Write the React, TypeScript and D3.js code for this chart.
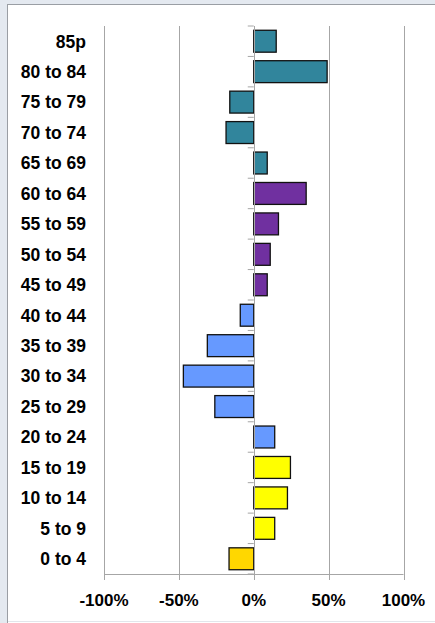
import React from "react";
import * as d3 from "d3";

const categories = ["85p","80 to 84","75 to 79","70 to 74","65 to 69","60 to 64","55 to 59","50 to 54","45 to 49","40 to 44","35 to 39","30 to 34","25 to 29","20 to 24","15 to 19","10 to 14","5 to 9","0 to 4"];
const values = [15, 49, -16, -18.5, 9, 35, 16.5, 11, 9, -9, -31, -47, -26, 14, 24.5, 22.5, 14, -16.5];
const colors = ["#31859C","#31859C","#31859C","#31859C","#31859C","#7030A0","#7030A0","#7030A0","#7030A0","#6699FF","#6699FF","#6699FF","#6699FF","#6699FF","#FFFF00","#FFFF00","#FFFF00","#FFD700"];
const xTicks = [-100, -50, 0, 50, 100];

const W = 435, H = 623;
const left = 104, right = 403.5, top = 26, bottom = 574;

export default function App() {
  const x = d3.scaleLinear().domain([-100, 100]).range([left, right]);
  const y = d3.scaleBand<string>().domain(categories).range([top, bottom]).paddingInner(0.28).paddingOuter(0.14);
  const step = (bottom - top) / categories.length;
  const font = "'Liberation Sans Narrow', 'Liberation Sans', Arial, sans-serif";
  return (
    <svg width={W} height={H} style={{ position: "absolute", left: 0, top: 0, display: "block" }}>
      <rect x={0} y={0} width={W} height={H} fill="#ffffff" />
      <rect x={0} y={0} width={W} height={4} fill="#e4e9f0" />
      <rect x={0} y={0} width={7} height={H} fill="#e4e9f0" />
      <line x1={7} x2={W} y1={4.5} y2={4.5} stroke="#9a9ea4" strokeWidth={1} />
      <line x1={7.5} x2={7.5} y1={4} y2={H} stroke="#9a9ea4" strokeWidth={1} />
      <line x1={8} x2={W} y1={621.5} y2={621.5} stroke="#e2e6eb" strokeWidth={1} />
      {xTicks.map((t) => (
        <line key={"g" + t} x1={Math.round(x(t)) + 0.5} x2={Math.round(x(t)) + 0.5} y1={top} y2={bottom} stroke="#a6a6a6" strokeWidth={1} />
      ))}
      {xTicks.map((t) => (
        <line key={"t" + t} x1={Math.round(x(t)) + 0.5} x2={Math.round(x(t)) + 0.5} y1={bottom} y2={bottom + 6} stroke="#a6a6a6" strokeWidth={1} />
      ))}
      <line x1={x(-100)} x2={x(100)} y1={bottom + 0.5} y2={bottom + 0.5} stroke="#a6a6a6" strokeWidth={1} />
      {categories.map((c, i) => {
        const v = values[i];
        const x0 = x(Math.min(0, v));
        const w = Math.abs(x(v) - x(0));
        return (
          <rect key={c} x={x0} y={y(c)!} width={w} height={y.bandwidth()} fill={colors[i]} stroke="#111111" strokeWidth={1.3} />
        );
      })}
      <line x1={Math.round(x(0)) + 0.5} x2={Math.round(x(0)) + 0.5} y1={top} y2={bottom} stroke="#a6a6a6" strokeWidth={1} />
      {d3.range(categories.length + 1).map((i) => (
        <line key={"yt" + i} x1={x(0) - 6} x2={x(0)} y1={top + i * step} y2={top + i * step} stroke="#a6a6a6" strokeWidth={1} />
      ))}
      {categories.map((c) => (
        <text key={"l" + c} x={86} y={y(c)! + y.bandwidth() / 2} dy="0.36em" textAnchor="end" fontFamily={font} fontWeight="bold" fontSize={17.5} fill="#000">
          {c}
        </text>
      ))}
      {xTicks.map((t) => (
        <text key={"xl" + t} x={x(t)} y={606} textAnchor="middle" fontFamily={font} fontWeight="bold" fontSize={17} fill="#000">
          {t + "%"}
        </text>
      ))}
    </svg>
  );
}
